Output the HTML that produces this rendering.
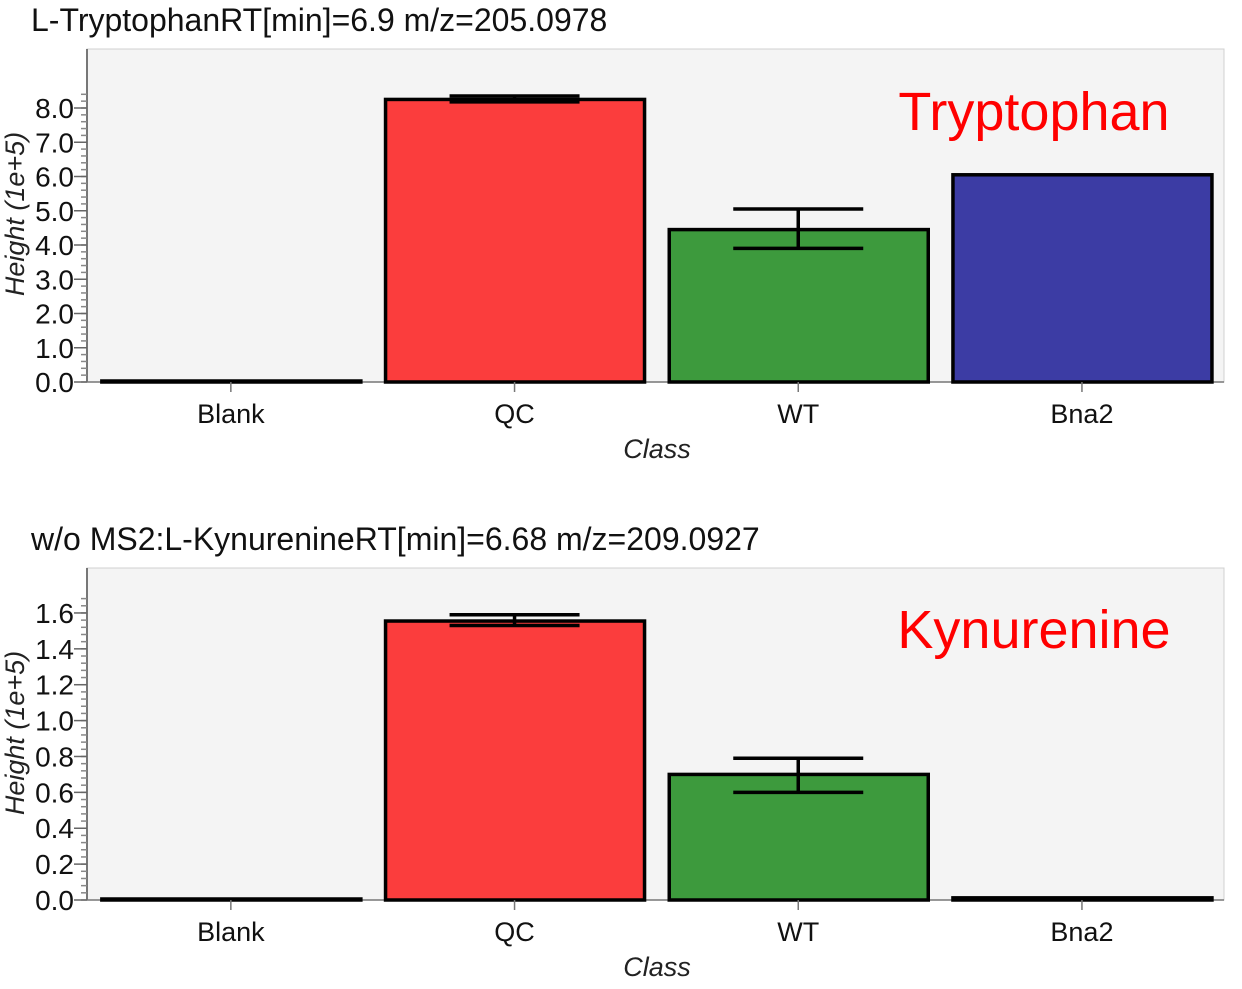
<!DOCTYPE html>
<html><head><meta charset="utf-8"><style>
body{margin:0;background:#fff;width:1242px;height:984px;overflow:hidden}
text{font-family:"Liberation Sans",sans-serif}
</style></head><body>
<svg id="svg" width="1242" height="984" xmlns="http://www.w3.org/2000/svg"></svg>
<script>
const categories=["Blank","QC","WT","Bna2"];
const colors=["#3a3a3a","#fb3d3d","#3d9a3d","#3c3ca4"];
const trpValues=[0.0,8.25,4.45,6.05];
const trpErrLow=[0.0,8.18,3.9,6.05];
const trpErrHigh=[0.0,8.35,5.05,6.05];
const trpTicks=[0,1,2,3,4,5,6,7,8];
const kynValues=[0.005,1.555,0.70,0.012];
const kynErrLow=[0.005,1.53,0.60,0.012];
const kynErrHigh=[0.005,1.59,0.79,0.012];
const kynTicks=[0,0.2,0.4,0.6,0.8,1.0,1.2,1.4,1.6];

const NS="http://www.w3.org/2000/svg";
const svg=document.getElementById('svg');
function el(tag,attrs,parent){const e=document.createElementNS(NS,tag);for(const k in attrs)e.setAttribute(k,attrs[k]);(parent||svg).appendChild(e);return e;}

function chart(opt){
  const g=el('g',{});
  
  
  const L=87,R=1224,T=opt.top,B=opt.zero;
  const y=v=>B-(v-0)*opt.scale;
  const x=i=>89+(i+0.5)*283.7;
  const t=el('text',{x:31,y:opt.titleY,'font-size':32,fill:'#111'},g);t.textContent=opt.title;
  
  const bg=el('rect',{x:L,y:T,width:R-L,height:B-T,fill:'#f4f4f4',stroke:'#d0d0d0'},g);
  
  el('line',{x1:L,y1:T,x2:L,y2:B,stroke:'#777','stroke-width':2},g);
  el('line',{x1:L,y1:B,x2:R,y2:B,stroke:'#777','stroke-width':1.5},g);
  const step=opt.ticks[1]-opt.ticks[0];
  const top=opt.ticks[opt.ticks.length-1]+step*0.4;
  for(let v=0;v<=top+1e-9;v+=step/5){el('line',{x1:L-6,y1:y(v),x2:L,y2:y(v),stroke:'#888','stroke-width':1.5},g);}
  opt.ticks.forEach(v=>{
    el('line',{x1:L-13,y1:y(v),x2:L,y2:y(v),stroke:'#666','stroke-width':1.5},g);
    const tl=el('text',{x:L-13,y:y(v)+10,'font-size':28,'text-anchor':'end',fill:'#111'},g);
    tl.textContent=v.toFixed(1);
    
  });
  const yt=el('text',{transform:`translate(24,${opt.yTitleC}) rotate(-90)`,'font-size':27,'font-style':'italic','text-anchor':'middle',fill:'#222'},g);
  yt.textContent='Height (1e+5)';
  
  categories.forEach((c,i)=>{
    const cx=x(i);
    const h=Math.max(1,B-y(opt.values[i]));
    const bar=el('rect',{x:cx-129,y:B-h,width:259,height:h,fill:colors[i],stroke:'#000','stroke-width':3.5},g);
    
    if(opt.hi[i]-opt.lo[i]>0){
      const eg=el('g',{stroke:'#000','stroke-width':3.5},g);
      
      el('line',{x1:cx,y1:y(opt.lo[i]),x2:cx,y2:y(opt.hi[i])},eg);
      el('line',{x1:cx-65,y1:y(opt.lo[i]),x2:cx+65,y2:y(opt.lo[i])},eg);
      el('line',{x1:cx-65,y1:y(opt.hi[i]),x2:cx+65,y2:y(opt.hi[i])},eg);
    }
    el('line',{x1:cx,y1:B,x2:cx,y2:B+10,stroke:'#777','stroke-width':1.5},g);
    const xl=el('text',{x:cx,y:B+41,'font-size':27,'text-anchor':'middle',fill:'#111'},g);
    xl.textContent=c;
    
  });
  const xt=el('text',{x:657,y:B+76,'font-size':27,'font-style':'italic','text-anchor':'middle',fill:'#222'},g);
  xt.textContent='Class';
  
  const an=el('text',{x:1034,y:opt.annY,'font-size':54,'text-anchor':'middle',fill:'#f00'},g);
  an.textContent=opt.annot;
  
}
chart({name:'tryptophan-chart',title:'L-TryptophanRT[min]=6.9 m/z=205.0978',titleY:31,top:49,zero:382,scale:34.25,ticks:trpTicks,values:trpValues,lo:trpErrLow,hi:trpErrHigh,annot:'Tryptophan',annY:130,yTitleC:214});
chart({name:'kynurenine-chart',title:'w/o MS2:L-KynurenineRT[min]=6.68 m/z=209.0927',titleY:550,top:568,zero:900,scale:179.4,ticks:kynTicks,values:kynValues,lo:kynErrLow,hi:kynErrHigh,annot:'Kynurenine',annY:648,yTitleC:733});
</script>
</body></html>
